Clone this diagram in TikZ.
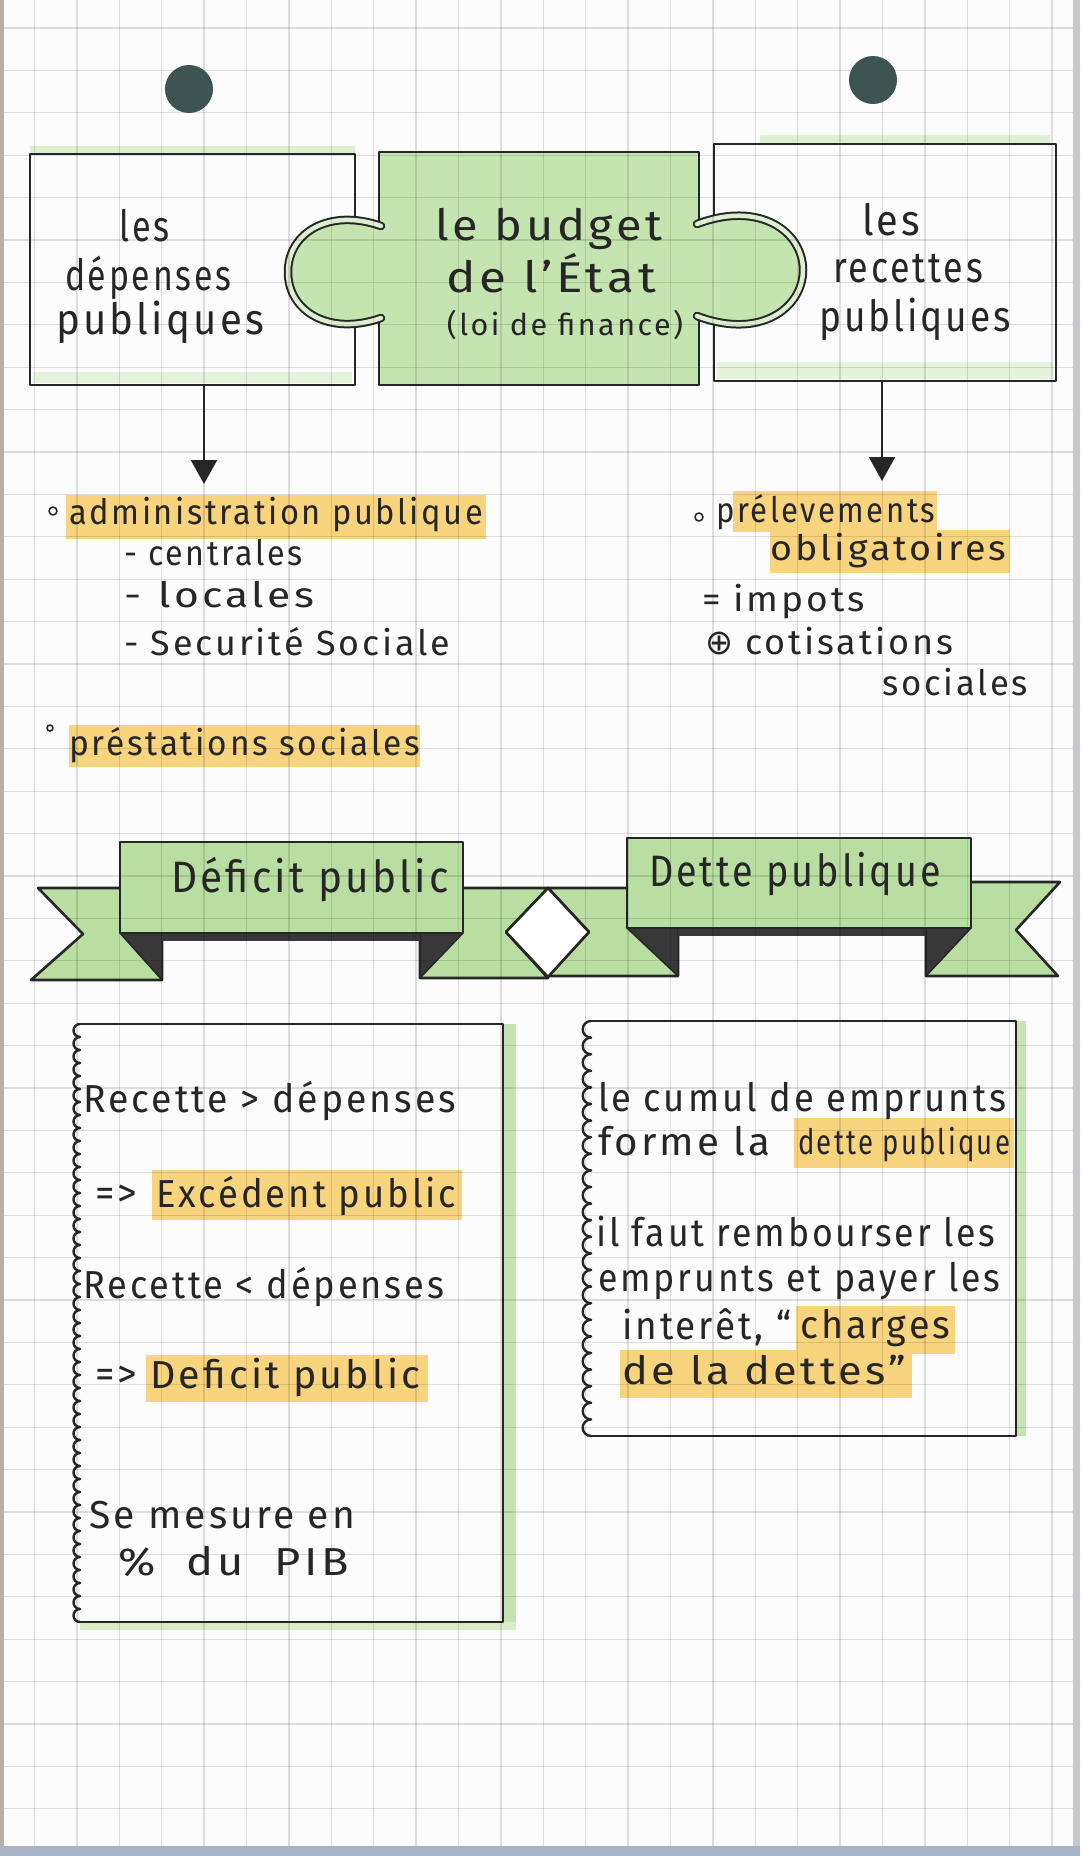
\documentclass[tikz,border=0pt]{standalone}
\usepackage{fontspec}
\setmainfont{Fira Sans}[LetterSpace=8]
\newfontfamily\symf{DejaVu Sans}
\usepackage{graphicx}
\usetikzlibrary{arrows.meta}
\definecolor{ink}{HTML}{262626}
\definecolor{paper}{HTML}{FCFCFC}
\definecolor{pgreen}{HTML}{C5E5B0}
\definecolor{bgreen}{HTML}{B9DEA2}
\definecolor{hly}{HTML}{F9D47E}
\definecolor{holec}{HTML}{3D5452}
\definecolor{foldc}{HTML}{383838}
\definecolor{edgeL}{HTML}{B7AEA5}
\definecolor{edgeR}{HTML}{C8C8CC}
\definecolor{edgeB}{HTML}{A9B3C6}
\newcommand{\fw}[2]{\resizebox{#1pt}{\height}{\vphantom{lp}#2}}
\begin{document}
\begin{tikzpicture}[x=1pt,y=-1pt,line join=round,line cap=round,
  ol/.style={draw=ink,line width=2.6pt},
  tx/.style={anchor=west,inner sep=0pt,text=ink},
  tc/.style={anchor=center,inner sep=0pt,text=ink},
  ftop/.style={font=\fontsize{43}{50}\selectfont},
  fsmall/.style={font=\fontsize{30}{36}\selectfont},
  flist/.style={font=\fontsize{35}{42}\selectfont},
  fban/.style={font=\fontsize{44}{50}\selectfont},
  fbox/.style={font=\fontsize{39}{46}\selectfont},
  fboxs/.style={font=\fontsize{35}{42}\selectfont},
  hl/.style={fill=hly},
  gl/.style={black,opacity=0.12,line width=1.3pt},
  foldfill/.style={fill=foldc,draw=ink,line width=1.5pt},
  arr/.style={draw=ink,line width=2.4pt,-{Triangle[width=26pt,length=24pt]}}]
\useasboundingbox (0,0) rectangle (1080,1856);
\fill[paper] (0,0) rectangle (1080,1856);

% ---------- puzzle ----------
\fill[pgreen!60] (30,146) rectangle (355,154);
\fill[pgreen!45] (33,372) rectangle (352,383);
\fill[pgreen!60] (760,135) rectangle (1050,144);
\fill[pgreen!45] (717,362) rectangle (1053,379);
\fill[pgreen] (379,152) rectangle (699,385);
\fill[pgreen] (381,226) .. controls (330,208) and (288,232) .. (288,272) .. controls (288,312) and (330,336) .. (381,318) -- cycle;
\fill[pgreen] (697,224) .. controls (760,200) and (803,232) .. (803,270) .. controls (803,308) and (760,340) .. (697,316) -- cycle;
\draw[ol] (355,220) -- (355,154) -- (30,154) -- (30,385) -- (355,385) -- (355,324);
\draw[ol] (379,226) -- (379,152) -- (699,152) -- (699,224);
\draw[ol] (699,316) -- (699,385) -- (379,385) -- (379,318);
\draw[ol] (714,219) -- (714,144) -- (1056,144) -- (1056,381) -- (714,381) -- (714,321);
\draw[draw=ink,line width=2pt,double=pgreen!60,double distance=4.5pt] (381,226) .. controls (330,208) and (288,232) .. (288,272) .. controls (288,312) and (330,336) .. (381,318);
\draw[draw=ink,line width=2pt,double=pgreen!60,double distance=4.5pt] (697,224) .. controls (760,200) and (803,232) .. (803,270) .. controls (803,308) and (760,340) .. (697,316);

% ---------- highlights ----------
\fill[hl] (66,495) rectangle (486,539);
\fill[hl] (69,725) rectangle (420,767);
\fill[hl] (733,491) rectangle (937,532);
\fill[hl] (770,530) rectangle (1010,573);
\fill[hl] (152,1170) rectangle (462,1220);
\fill[hl] (146,1355) rectangle (428,1402);
\fill[hl] (794,1118) rectangle (1014,1168);
\fill[hl] (796,1306) rectangle (955,1354);
\fill[hl] (620,1350) rectangle (912,1398);

% ---------- banners ----------
\filldraw[fill=bgreen,ol] (38,888) -- (162,888) -- (162,980) -- (31,980) -- (83,934) -- cycle;
\filldraw[fill=bgreen,ol] (420,888) -- (548,888) -- (506,932) -- (548,978) -- (420,978) -- cycle;
\filldraw[fill=bgreen,ol] (548,888) -- (678,888) -- (678,976) -- (548,976) -- (589,932) -- cycle;
\filldraw[fill=bgreen,ol] (926,882) -- (1060,882) -- (1016,930) -- (1058,976) -- (926,976) -- cycle;
\filldraw[foldfill] (120,933) -- (162,933) -- (162,980) -- cycle;
\filldraw[foldfill] (463,933) -- (420,933) -- (420,978) -- cycle;
\filldraw[foldfill] (627,928) -- (678,928) -- (678,976) -- cycle;
\filldraw[foldfill] (971,928) -- (926,928) -- (926,976) -- cycle;
\fill[foldc] (162,931) rectangle (420,941);
\fill[foldc] (678,926) rectangle (926,936);
\filldraw[fill=bgreen,ol] (120,842) rectangle (463,933);
\filldraw[fill=bgreen,ol] (627,838) rectangle (971,928);

% ---------- bottom boxes ----------
\fill[pgreen] (503,1024) rectangle (516,1630);
\fill[pgreen!70] (80,1622) rectangle (516,1630);
\fill[pgreen] (1016,1021) rectangle (1026,1436);
\draw[ol] (80,1024) -- (503,1024) -- (503,1622) -- (80,1622);
\foreach \i in {0,...,45}
  \draw[draw=ink,line width=2.4pt] (80,{1024+13*\i}) arc[start angle=-90,end angle=-270,radius=6.5];
\draw[ol] (591,1021) -- (1016,1021) -- (1016,1436) -- (591,1436);
\foreach \i in {0,...,24}
  \draw[draw=ink,line width=2.4pt] (591,{1021+16.6*\i}) arc[start angle=-90,end angle=-270,radius=8.3];

% ---------- grid ----------
\foreach \k in {0,...,25} \draw[gl] ({34.5+42.4*\k},0) -- ({34.5+42.4*\k},1856);
\foreach \k in {0,...,43} \draw[gl] (0,{28+42.4*\k}) -- (1080,{28+42.4*\k});

\filldraw[fill=white,ol] (548,888) -- (506,932) -- (548,977) -- (589,932) -- cycle;

% ---------- paper edges and holes ----------
\fill[edgeL] (0,0) rectangle (4,1856);
\fill[edgeR] (1073,0) rectangle (1080,1856);
\fill[edgeB] (0,1846) rectangle (1080,1856);
\fill[holec] (189,89) circle (24);
\fill[holec] (873,80) circle (24);

% ---------- arrows ----------
\coordinate (a1s) at (204,386);
\coordinate (a1e) at (204,484);
\coordinate (a2s) at (882,382);
\coordinate (a2e) at (882,481);
\draw[arr] (a1s) -- (a1e);
\draw[arr] (a2s) -- (a2e);

% ---------- texts ----------
\node[tc,ftop] (dep1) at (145,230) {\fw{50}{les}};
\node[tc,ftop] (dep2) at (148,278) {\fw{166}{dépenses}};
\node[tc,ftop] (dep3) at (160,322) {\fw{208}{publiques}};
\node[tc,ftop] (bud1) at (549,229) {\fw{227}{le budget}};
\node[tc,ftop] (bud2) at (551,277) {\fw{210}{de l'État}};
\node[tc,fsmall] (bud3) at (565,326) {\fw{236}{(loi de finance)}};
\node[tc,ftop] (rec1) at (891,224) {\fw{58}{les}};
\node[tc,ftop] (rec2) at (908,271) {\fw{150}{recettes}};
\node[tc,ftop] (rec3) at (915,319) {\fw{192}{publiques}};

\draw[ink,line width=1.6pt] (53,511) circle (4);
\node[tx,flist] (adm) at (69,515) {\fw{414}{administration publique}};
\node[tx,flist] (cen) at (124,556) {\fw{178}{- centrales}};
\node[tx,flist] (loc) at (124,598) {\fw{190}{-\hspace{0.4em}locales}};
\node[tx,flist] (secu) at (124,645) {\fw{326}{- Securité Sociale}};
\draw[ink,line width=1.6pt] (50,728) circle (3);
\node[tx,flist] (pres) at (69,745) {\fw{351}{préstations sociales}};

\draw[ink,line width=1.6pt] (699,517) circle (4);
\node[tx,flist] (prel) at (716,512) {\fw{219}{prélevements}};
\node[tx,flist] (obl) at (770,551) {\fw{236}{obligatoires}};
\node[tx,flist] (imp) at (702,602) {\fw{163}{= impots}};
\node[tx,flist] (plus) at (705,645) {\fw{28}{\symf ⊕}};
\node[tx,flist] (cot) at (745,645) {\fw{208}{cotisations}};
\node[tx,flist] (soc) at (882,686) {\fw{146}{sociales}};

\node[tc,fban] (deft) at (310,880) {\fw{278}{Déficit public}};
\node[tc,fban] (dett) at (795,874) {\fw{292}{Dette publique}};

\node[tx,fbox] (r1) at (83,1101) {\fw{373}{Recette > dépenses}};
\node[tx,fbox] (ar1) at (95,1196) {\fw{42}{=>}};
\node[tx,fbox] (exc) at (156,1196) {\fw{300}{Excédent public}};
\node[tx,fbox] (r2) at (83,1287) {\fw{361}{Recette < dépenses}};
\node[tx,fbox] (ar2) at (95,1377) {\fw{42}{=>}};
\node[tx,fbox] (defp) at (150,1377) {\fw{270}{Deficit public}};
\node[tx,fbox] (mes) at (89,1518) {\fw{266}{Se mesure en}};
\node[tx,fbox] (pib) at (118,1565) {\fw{231}{\%\ \ du\ \ PIB}};

\node[tx,fbox] (cum) at (598,1101) {\fw{408}{le cumul de emprunts}};
\node[tx,fbox] (form) at (598,1145) {\fw{172}{forme la}};
\node[tx,fboxs] (dp) at (798,1145) {\fw{212}{dette publique}};
\node[tx,fbox] (faut) at (596,1235) {\fw{399}{il faut rembourser les}};
\node[tx,fbox] (emp) at (598,1281) {\fw{402}{emprunts et payer les}};
\node[tx,fbox] (int) at (622,1328) {\fw{169}{interêt, “}};
\node[tx,fbox] (chg) at (800,1328) {\fw{150}{charges}};
\node[tx,fbox] (dla) at (622,1374) {\fw{284}{de la dettes”}};
\end{tikzpicture}
\end{document}
